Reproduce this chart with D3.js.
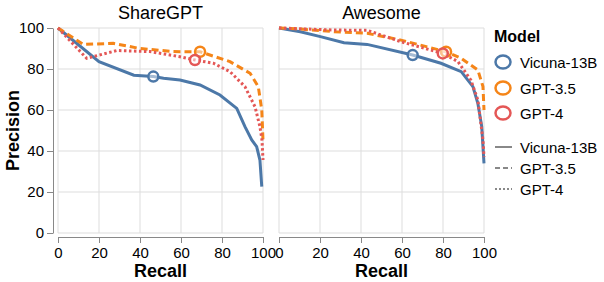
<!DOCTYPE html>
<html><head><meta charset="utf-8">
<script src="https://cdn.jsdelivr.net/npm/d3@7"></script>
<style>html,body{margin:0;padding:0;background:#fff;}svg{display:block;font-family:"Liberation Sans",Arial,sans-serif;}</style>
</head><body>
<svg id="c" width="604" height="282"></svg>
<script>
const panels = ["ShareGPT", "Awesome"];
const models = ["Vicuna-13B", "GPT-3.5", "GPT-4"];
const colors = ["#4c78a8", "#f58518", "#e45756"];
const dashes = [null, "7,4", "2.5,2.5"];
const xTicks = [0, 20, 40, 60, 80, 100];
const yTicks = [0, 20, 40, 60, 80, 100];

// ShareGPT
const sgVicunaRecall = [0, 20, 37, 46.5, 51.5, 59.5, 69.3, 79, 87.2, 91.2, 94.5, 96.9, 98.5, 99.4];
const sgVicunaPrec   = [100, 83.6, 77, 76.3, 75.5, 74.6, 72.2, 67.3, 60.8, 51.9, 45.4, 42.1, 35.6, 22.6];
const sgGpt35Recall  = [0, 12.3, 27, 40, 56, 69.3, 83.9, 93.7, 97.7, 99.4, 100];
const sgGpt35Prec    = [100, 92, 92.5, 90, 88.5, 88.4, 83.6, 77.9, 71.4, 60, 45];
const sgGpt4Recall   = [0, 14, 28.6, 44.9, 59.5, 66.8, 75.8, 83.9, 91.2, 96.1, 98.5, 99.5, 100];
const sgGpt4Prec     = [100, 85.2, 89, 88.5, 86, 84.4, 82.8, 78.7, 71.4, 61.6, 51.9, 45.4, 35.6];
// Awesome
const awVicunaRecall = [0, 10.4, 20.2, 31.7, 43, 65.2, 79, 88.9, 94.6, 97, 98.9, 100];
const awVicunaPrec   = [100, 98.2, 95.8, 92.8, 92, 86.8, 82.8, 78.7, 71.4, 63.3, 51.9, 34];
const awGpt35Recall  = [0, 10.4, 26.8, 43, 59.5, 81.5, 88.9, 97, 99.5, 100];
const awGpt35Prec    = [100, 99.5, 98.2, 97.4, 94.1, 88.4, 85.2, 79.5, 71.4, 60];
const awGpt4Recall   = [0, 26.8, 43, 59.5, 79.9, 87.3, 93.6, 97, 99.5, 100];
const awGpt4Prec     = [100, 99, 98.9, 93.3, 87.6, 83.6, 74.6, 64.9, 45.4, 37];
// operating points
const sgPointRecall = [46.5, 69.3, 66.8];
const sgPointPrec   = [76.3, 88.4, 84.4];
const awPointRecall = [65.2, 81.5, 79.9];
const awPointPrec   = [86.8, 88.4, 87.6];

const curves = [
  [[sgVicunaRecall, sgVicunaPrec], [sgGpt35Recall, sgGpt35Prec], [sgGpt4Recall, sgGpt4Prec]],
  [[awVicunaRecall, awVicunaPrec], [awGpt35Recall, awGpt35Prec], [awGpt4Recall, awGpt4Prec]]
];
const points = [[sgPointRecall, sgPointPrec], [awPointRecall, awPointPrec]];

const svg = d3.select("#c");
const plotTop = 28, plotH = 205;
const panelX = [58, 279], plotW = 205;
const axisGray = "#888", gridGray = "#ddd", textCol = "#000";

const y = d3.scaleLinear().domain([0, 100]).range([plotTop + plotH, plotTop]);

panels.forEach((name, pi) => {
  const x = d3.scaleLinear().domain([0, 100]).range([panelX[pi], panelX[pi] + plotW]);
  const g = svg.append("g");
  // grid
  g.append("g").selectAll("line").data(xTicks).join("line")
    .attr("x1", d => x(d)).attr("x2", d => x(d)).attr("y1", plotTop).attr("y2", plotTop + plotH)
    .attr("stroke", gridGray).attr("stroke-width", 1);
  g.append("g").selectAll("line").data(yTicks).join("line")
    .attr("x1", x(0)).attr("x2", x(100)).attr("y1", d => y(d)).attr("y2", d => y(d))
    .attr("stroke", gridGray).attr("stroke-width", 1);
  // x axis
  const xa = g.append("g").attr("transform", `translate(0,${plotTop + plotH + 4})`)
    .call(d3.axisBottom(x).tickValues(xTicks).tickSize(6).tickSizeOuter(0).tickPadding(4));
  xa.select(".domain").attr("stroke", axisGray);
  xa.selectAll(".tick line").attr("stroke", axisGray);
  xa.selectAll("text").attr("font-size", 15).attr("fill", textCol).attr("font-family", "Liberation Sans, Arial, sans-serif");
  g.append("text").attr("x", x(50)).attr("y", 277).attr("text-anchor", "middle")
    .attr("font-size", 18).attr("font-weight", "bold").text("Recall");
  // title
  g.append("text").attr("x", x(50)).attr("y", 19).attr("text-anchor", "middle")
    .attr("font-size", 18).text(name);
  // lines
  const line = d3.line().x(d => x(d[0])).y(d => y(d[1]));
  curves[pi].forEach((c, mi) => {
    const data = c[0].map((r, i) => [r, c[1][i]]);
    g.append("path").datum(data).attr("d", line)
      .attr("fill", "none").attr("stroke", colors[mi]).attr("stroke-width", 3)
      .attr("stroke-dasharray", dashes[mi]);
  });
  // points
  const pr = points[pi];
  g.append("g").selectAll("circle").data(models).join("circle")
    .attr("cx", (d, i) => x(pr[0][i])).attr("cy", (d, i) => y(pr[1][i])).attr("r", 5)
    .attr("fill", "white").attr("fill-opacity", 0.5)
    .attr("stroke", (d, i) => colors[i]).attr("stroke-width", 2.5);
});

// y axis
const ya = svg.append("g").attr("transform", `translate(${panelX[0] - 5},0)`)
  .call(d3.axisLeft(y).tickValues(yTicks).tickSize(6).tickSizeOuter(0).tickPadding(3));
ya.select(".domain").attr("stroke", axisGray);
ya.selectAll(".tick line").attr("stroke", axisGray);
ya.selectAll("text").attr("font-size", 15).attr("fill", textCol).attr("font-family", "Liberation Sans, Arial, sans-serif");
svg.append("text").attr("transform", `translate(19,${plotTop + plotH / 2}) rotate(-90)`)
  .attr("text-anchor", "middle").attr("font-size", 18).attr("font-weight", "bold").text("Precision");

// legend
const lg = svg.append("g");
lg.append("text").attr("x", 494).attr("y", 42).attr("font-size", 16).attr("font-weight", "bold").text("Model");
const symY = [62, 88, 113];
lg.selectAll("ellipse").data(models).join("ellipse")
  .attr("cx", 503).attr("cy", (d, i) => symY[i]).attr("rx", 7.5).attr("ry", 6.5)
  .attr("fill", "none").attr("stroke", (d, i) => colors[i]).attr("stroke-width", 2.5);
lg.selectAll("text.sl").data(models).join("text").attr("class", "sl")
  .attr("x", 520).attr("y", (d, i) => symY[i] + 5.5).attr("font-size", 15).text(d => d);
const lineY = [147, 168, 189];
lg.selectAll("line").data(models).join("line")
  .attr("x1", 495).attr("x2", 512).attr("y1", (d, i) => lineY[i]).attr("y2", (d, i) => lineY[i])
  .attr("stroke", axisGray).attr("stroke-width", 2).attr("stroke-dasharray", (d, i) => dashes[i] ? (i === 1 ? "5,3" : "2,2") : null);
lg.selectAll("text.ll").data(models).join("text").attr("class", "ll")
  .attr("x", 520).attr("y", (d, i) => lineY[i] + 5.5).attr("font-size", 15).text(d => d);
</script>
</body></html>
